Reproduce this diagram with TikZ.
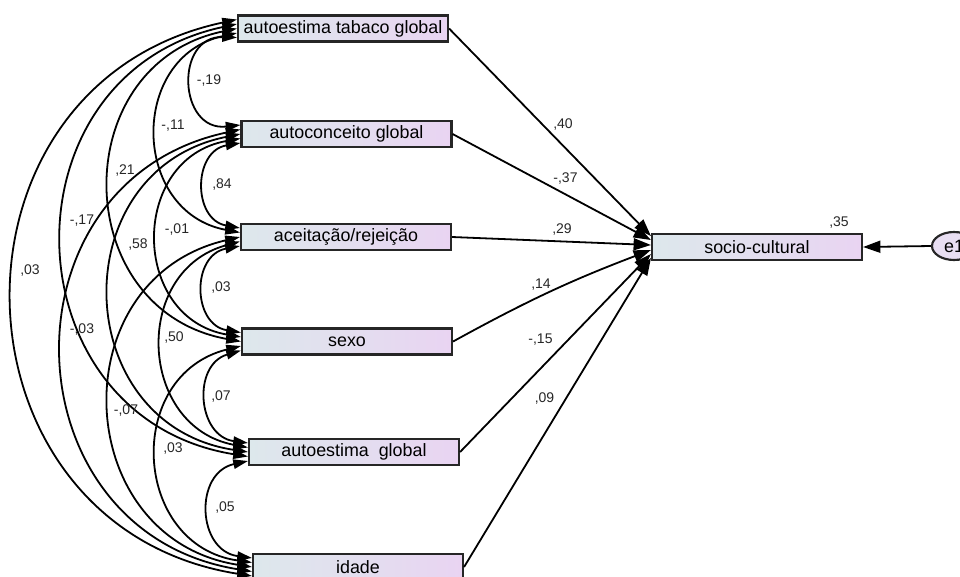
\documentclass[tikz,border=0pt]{standalone}
\usepackage{fontspec}
\setmainfont{Liberation Sans}
\usetikzlibrary{arrows.meta,calc,shapes.geometric}
\definecolor{boxleft}{RGB}{221,232,236}
\definecolor{boxright}{RGB}{233,212,242}
\definecolor{edge}{RGB}{38,38,38}
\definecolor{errfill}{RGB}{232,222,242}
\begin{document}
\begin{tikzpicture}[x=0.75pt,y=-0.75pt,
  var/.style={draw=edge, line width=1.6pt, left color=boxleft, right color=boxright,
    minimum width=157.5pt, minimum height=19.5pt, inner sep=0pt,
    font=\fontsize{13.4}{15}\selectfont},
  err/.style={ellipse, draw=edge, line width=1.6pt, fill=errfill,
    minimum width=33pt, minimum height=21pt, inner sep=0pt,
    font=\fontsize{13.4}{15}\selectfont},
  cov/.style={{Triangle[length=11pt,width=7pt]}-{Triangle[length=11pt,width=7pt]}, line width=1.35pt},
  reg/.style={-{Triangle[length=13pt,width=9pt]}, line width=1.35pt},
  lab/.style={font=\fontsize{10.5}{12}\selectfont, anchor=base, inner sep=0pt, text=black!85}]
\useasboundingbox (0,0) rectangle (960,576);

% observed variables
\node[var] (b1) at (343,28.5) {autoestima tabaco global};
\node[var] (b2) at (346.5,134) {autoconceito global};
\node[var] (b3) at (346,237) {aceitação/rejeição};
\node[var] (b4) at (347,341.5) {sexo};
\node[var] (b5) at (354,452) {autoestima\ \ global};
\node[var] (b6) at (358,567) {idade};
\node[var] (soc) at (757,247) {socio-cultural};
\node[err] (e1) at (954,246) {e1};

% end points of the covariance arcs on the left edges
\coordinate (c16) at ($(b1.west)+(0,-9)$);
\coordinate (c15) at ($(b1.west)+(0,-4.5)$);
\coordinate (c14) at ($(b1.west)+(0,0)$);
\coordinate (c13) at ($(b1.west)+(0,4.5)$);
\coordinate (c12) at ($(b1.west)+(0,9)$);
\coordinate (c21) at ($(b2.west)+(0,-9)$);
\coordinate (c26) at ($(b2.west)+(0,-4.5)$);
\coordinate (c25) at ($(b2.west)+(0,0)$);
\coordinate (c24) at ($(b2.west)+(0,4.5)$);
\coordinate (c23) at ($(b2.west)+(0,9)$);
\coordinate (c32) at ($(b3.west)+(0,-9)$);
\coordinate (c31) at ($(b3.west)+(0,-4.5)$);
\coordinate (c36) at ($(b3.west)+(0,0)$);
\coordinate (c35) at ($(b3.west)+(0,4.5)$);
\coordinate (c34) at ($(b3.west)+(0,9)$);
\coordinate (c43) at ($(b4.west)+(0,-9)$);
\coordinate (c42) at ($(b4.west)+(0,-4.5)$);
\coordinate (c41) at ($(b4.west)+(0,0)$);
\coordinate (c46) at ($(b4.west)+(0,4.5)$);
\coordinate (c45) at ($(b4.west)+(0,9)$);
\coordinate (c54) at ($(b5.west)+(0,-9)$);
\coordinate (c53) at ($(b5.west)+(0,-4.5)$);
\coordinate (c52) at ($(b5.west)+(0,0)$);
\coordinate (c51) at ($(b5.west)+(0,4.5)$);
\coordinate (c56) at ($(b5.west)+(0,9)$);
\coordinate (c65) at ($(b6.west)+(0,-9)$);
\coordinate (c64) at ($(b6.west)+(0,-4.5)$);
\coordinate (c63) at ($(b6.west)+(0,0)$);
\coordinate (c62) at ($(b6.west)+(0,4.5)$);
\coordinate (c61) at ($(b6.west)+(0,9)$);

% covariances
\draw[cov] (c12) to[bend right=94, looseness=1.83] (c21);
\draw[cov] (c23) to[bend right=80, looseness=1.45] (c32);
\draw[cov] (c34) to[bend right=80, looseness=1.46] (c43);
\draw[cov] (c45) to[bend right=78, looseness=1.41] (c54);
\draw[cov] (c56) to[bend right=80, looseness=1.46] (c65);
\draw[cov] (c13) to[bend right=78.5, looseness=1.42] (c31);
\draw[cov] (c24) to[bend right=80, looseness=1.45] (c42);
\draw[cov] (c35) to[bend right=77, looseness=1.39] (c53);
\draw[cov] (c46) to[bend right=79, looseness=1.43] (c64);
\draw[cov] (c14) to[bend right=79, looseness=1.43] (c41);
\draw[cov] (c25) to[bend right=80, looseness=1.46] (c52);
\draw[cov] (c36) to[bend right=79, looseness=1.43] (c63);
\draw[cov] (c15) to[bend right=79.4, looseness=1.44] (c51);
\draw[cov] (c26) to[bend right=79.4, looseness=1.44] (c62);
\draw[cov] (c16) to[bend right=79.5, looseness=1.44] (c61);

% covariance values
\node[lab] at (209,84) {-,19};
\node[lab] at (173,129) {-,11};
\node[lab] at (125,174) {,21};
\node[lab] at (82,224) {-,17};
\node[lab] at (30,274) {,03};
\node[lab] at (222,188) {,84};
\node[lab] at (138,248) {,58};
\node[lab] at (82,333) {-,03};
\node[lab] at (126,414) {-,07};
\node[lab] at (177,233) {-,01};
\node[lab] at (221,291) {,03};
\node[lab] at (174,341) {,50};
\node[lab] at (173,452) {,03};
\node[lab] at (221,400) {,07};
\node[lab] at (225,511) {,05};

% regression paths
\coordinate (s1) at ($(soc.west)+(0,-11)$);
\coordinate (s2) at ($(soc.west)+(0,-7)$);
\coordinate (s3) at ($(soc.west)+(0,-2)$);
\coordinate (s4) at ($(soc.west)+(0,3)$);
\coordinate (s5) at ($(soc.west)+(0,7)$);
\coordinate (s6) at ($(soc.west)+(0,11)$);
\draw[reg] (b1.east) -- (s1);
\draw[reg] (b2.east) -- (s2);
\draw[reg] (b3.east) -- (s3);
\draw[reg] (b4.east) to[bend left=4] (s4);
\draw[reg] (b5.east) -- (s5);
\draw[reg] (b6.east) -- (s6);
\draw[reg] (e1.west) -- (soc.east);

% path coefficients
\node[lab] at (563,128) {,40};
\node[lab] at (565.5,182) {-,37};
\node[lab] at (562,233) {,29};
\node[lab] at (541,288) {,14};
\node[lab] at (540.5,343) {-,15};
\node[lab] at (544.5,402) {,09};
\node[lab] at (839,226) {,35};
\end{tikzpicture}
\end{document}
